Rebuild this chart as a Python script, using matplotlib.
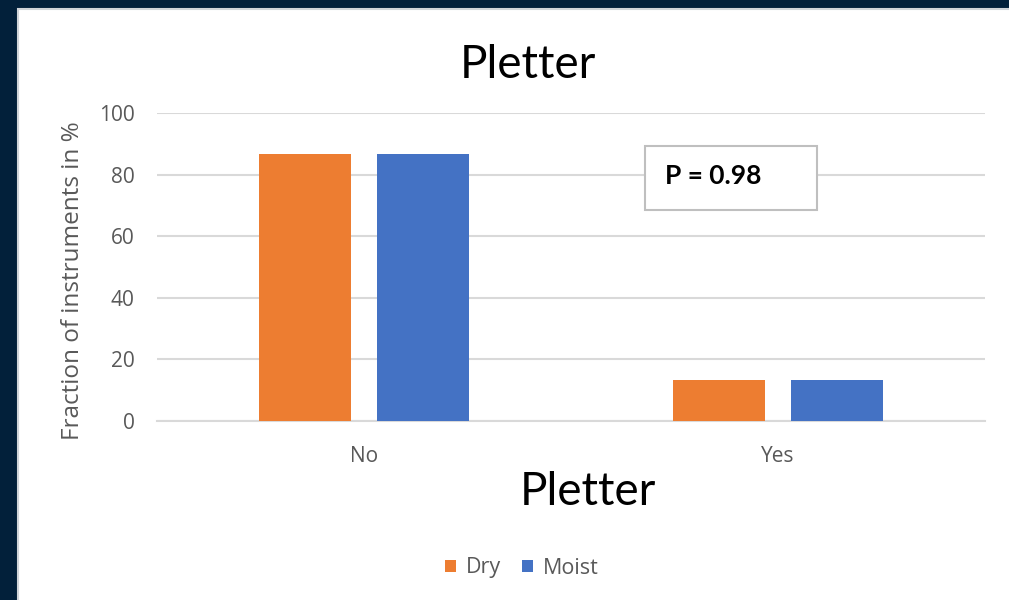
import matplotlib

matplotlib.use("Agg")
import matplotlib.pyplot as plt
import numpy as np
from matplotlib.patches import Rectangle

categories = ["No", "Yes"]
dry = [86.7, 13.3]
moist = [86.7, 13.3]
series_names = ["Dry", "Moist"]
y_ticks = [0, 20, 40, 60, 80, 100]

ORANGE = "#ED7D31"
BLUE = "#4472C4"
NAVY = "#02203A"
GRID = "#D9D9D9"
TEXT = "#595959"

plt.rcParams["font.family"] = ["Open Sans", "DejaVu Sans"]
TITLE_FONT = ["Lato", "DejaVu Sans"]

fig = plt.figure(figsize=(10.09, 6.0), dpi=100)
fig.patch.set_facecolor(NAVY)

# white chart panel
W, H = 1009, 600
fig.patches.append(Rectangle((18 / W, -0.01), 1.02, 1.01 - 9 / H, transform=fig.transFigure,
                             facecolor="white", edgecolor="#D0D4D8", linewidth=1.5, zorder=-1))

ax = fig.add_axes([157 / W, 179 / H, 828 / W, 308 / H])
ax.set_zorder(1)
ax.set_facecolor("white")

x = np.arange(len(categories))
width = 0.222
offset = 0.1425
ax.bar(x - offset, dry, width, color=ORANGE, label=series_names[0], zorder=3)
ax.bar(x + offset, moist, width, color=BLUE, label=series_names[1], zorder=3)

ax.set_xlim(-0.5, 1.5)
ax.set_ylim(0, 100)
ax.set_yticks(y_ticks)
ax.set_xticks(x)
ax.set_xticklabels(categories)
ax.grid(axis="y", color=GRID, linewidth=1.5, zorder=0)
for side in ("top", "right", "left"):
    ax.spines[side].set_visible(False)
ax.spines["bottom"].set_color(GRID)
ax.spines["bottom"].set_linewidth(1.5)
ax.tick_params(axis="both", length=0, colors=TEXT, labelsize=15)
ax.tick_params(axis="y", pad=16)
ax.tick_params(axis="x", pad=18)

fig.text(73 / W, 1 - 281 / H, "Fraction of instruments in %", fontsize=17.5, color=TEXT,
         rotation=90, ha="center", va="center")

fig.text(528 / W, 1 - 65 / H, "Pletter", fontsize=33, color="black", ha="center", va="center",
         family=TITLE_FONT)
fig.text(588 / W, 1 - 492 / H, "Pletter", fontsize=33, color="black", ha="center", va="center",
         family=TITLE_FONT)

# p-value box
fig.patches.append(Rectangle((645 / W, 1 - 210 / H), 172 / W, 64 / H, transform=fig.transFigure,
                             facecolor="white", edgecolor="#BFBFBF", linewidth=1.5, zorder=5))
fig.text(665 / W, 1 - 176 / H, "P = 0.98", fontsize=19, fontweight="bold", color="black",
         ha="left", va="center", zorder=6, family=TITLE_FONT)

fig.legend(loc="center", bbox_to_anchor=(522 / W, 1 - 568 / H), ncol=2, frameon=False,
           fontsize=15.5, labelcolor=TEXT, handlelength=0.5, handleheight=0.5,
           handletextpad=0.45, columnspacing=1.0)

fig.savefig("out.png", dpi=100, facecolor=fig.get_facecolor())
